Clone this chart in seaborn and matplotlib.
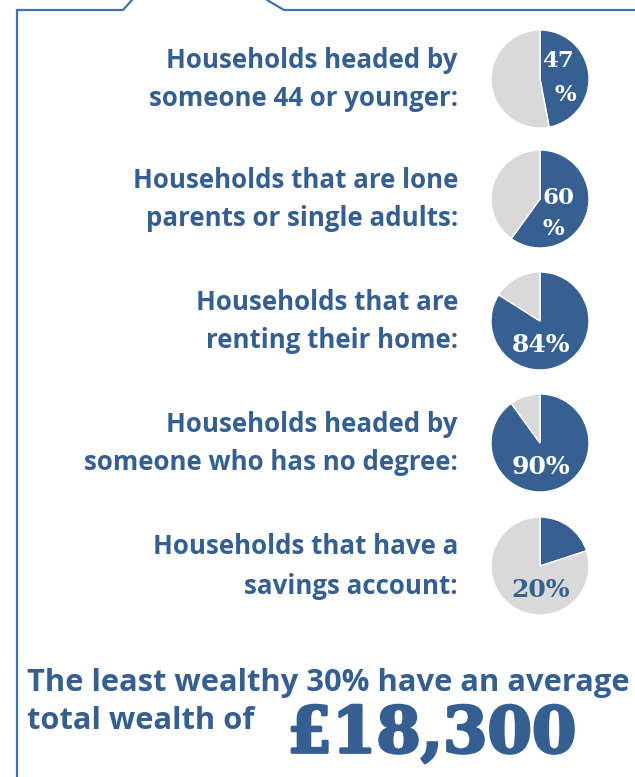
import matplotlib
matplotlib.use("Agg")
import matplotlib.pyplot as plt
import matplotlib.patheffects as pe
import seaborn as sns

sns.set_theme(style="white")
plt.rcParams['font.family'] = ['Open Sans', 'DejaVu Sans']

# data
line1 = ["Households headed by", "Households that are lone", "Households that are",
         "Households headed by", "Households that have a"]
line2 = ["someone 44 or younger:", "parents or single adults:", "renting their home:",
         "someone who has no degree:", "savings account:"]
shares = [47, 60, 84, 90, 20]
share_labels = ["47\n%", "60\n%", "84%", "90%", "20%"]
headline = "The least wealthy 30% have an average"
headline2 = "total wealth of"
wealth = "£18,300"

blue = "#366092"
grey = "#d9d9d9"
txt = "#365f91"
frame = "#4472a6"

W, H = 635, 777
fig = plt.figure(figsize=(W / 100, H / 100), dpi=100)
bg = fig.add_axes([0, 0, 1, 1])
bg.set_xlim(0, W)
bg.set_ylim(H, 0)
bg.axis("off")

# frame with tab notch at top
bg.plot([17, 17, 123, 132], [H, 10, 10, 0], color=frame, lw=1.6, solid_joinstyle="miter")
bg.plot([267, 284, W], [0, 10, 10], color=frame, lw=1.6, solid_joinstyle="miter")

serif = dict(fontweight="bold", family="DejaVu Serif")
centers = [79, 199, 321, 443, 566]
r = 49
for i, cy in enumerate(centers):
    bg.text(458, cy - 19, line1[i], ha="right", va="center", fontsize=18.6,
            fontweight="bold", color=txt)
    bg.text(458, cy + 20, line2[i], ha="right", va="center", fontsize=18.6,
            fontweight="bold", color=txt)

    ax = fig.add_axes([(540 - r) / W, 1 - (cy + r) / H, 2 * r / W, 2 * r / H])
    ax.pie([shares[i], 100 - shares[i]], colors=[blue, grey], startangle=90,
           counterclock=False, radius=1.0)
    ax.set_xlim(-1, 1)
    ax.set_ylim(-1, 1)
    ax.set_aspect("equal")
    lbl = share_labels[i]
    if "\n" in lbl:
        num, pc = lbl.split("\n")
        if i == 0:
            ax.text(0.36, 0.36, num, ha="center", va="center", color="white",
                    fontsize=16.5, **serif)
            ax.text(0.52, -0.32, pc, ha="center", va="center", color="white",
                    fontsize=16.5, **serif)
        else:
            ax.text(0.37, 0.02, num, ha="center", va="center", color="white",
                    fontsize=16.5, **serif)
            ax.text(0.28, -0.62, pc, ha="center", va="center", color="white",
                    fontsize=16.5, **serif)
    else:
        col = "white" if shares[i] > 50 else blue
        ax.text(0.02, -0.49, lbl, ha="center", va="center", color=col,
                fontsize=18, **serif)

bg.text(27, 683, headline, ha="left", va="center", fontsize=22.2,
        fontweight="bold", color=txt)
bg.text(27, 721, headline2, ha="left", va="center", fontsize=22.2,
        fontweight="bold", color=txt)
bg.text(432, 735, wealth, ha="center", va="center", fontsize=46,
        color=txt, path_effects=[pe.withStroke(linewidth=2, foreground=txt)], **serif)

fig.savefig("out.png", dpi=100)
